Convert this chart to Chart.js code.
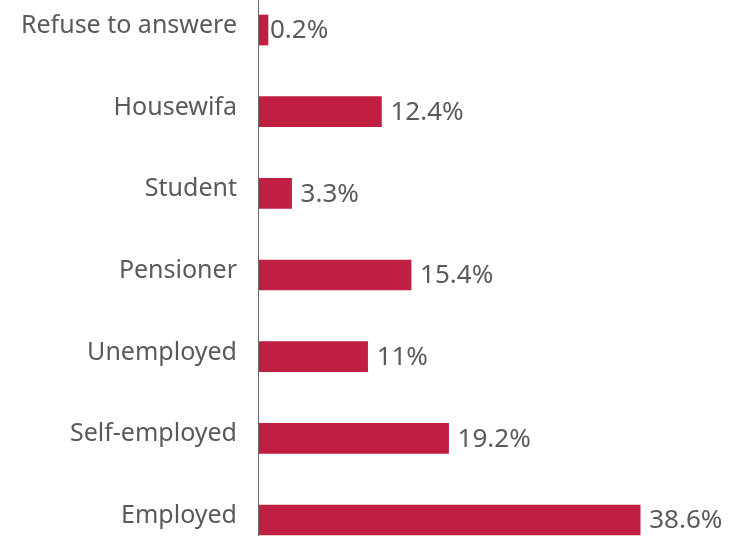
<!DOCTYPE html>
<html>
<head>
<meta charset="utf-8">
<script src="https://cdn.jsdelivr.net/npm/chart.js@4"></script>
<style>
  html, body { margin: 0; padding: 0; background: #fff; }
  #wrap { width: 740px; height: 536px; position: relative; }
</style>
</head>
<body>
<div id="wrap"><canvas id="occupationChart"></canvas></div>
<script>
// Occupation breakdown (%)
const categories = ['Refuse to answere', 'Housewifa', 'Student', 'Pensioner', 'Unemployed', 'Self-employed', 'Employed'];
const shares = [0.2, 12.4, 3.3, 15.4, 11, 19.2, 38.6];

const barColor = '#c01f41';
const textColor = '#5a5a5a';
const fontFamily = '"Noto Sans", sans-serif';

// value labels to the right of each bar, plus the full-height axis line
const barLabels = {
  id: 'barLabels',
  afterDatasetsDraw(chart) {
    const ctx = chart.ctx;
    const area = chart.chartArea;
    ctx.save();
    ctx.strokeStyle = '#6b6b6b';
    ctx.lineWidth = 1;
    ctx.beginPath();
    ctx.moveTo(area.left - 0.5, 0);
    ctx.lineTo(area.left - 0.5, chart.height);
    ctx.stroke();

    ctx.fillStyle = textColor;
    ctx.font = '26px ' + fontFamily;
    ctx.textAlign = 'left';
    ctx.textBaseline = 'middle';
    chart.getDatasetMeta(0).data.forEach((bar, i) => {
      const gap = shares[i] < 1 ? 2 : 9;
      ctx.fillText(shares[i] + '%', bar.x + gap, bar.y + 1);
    });
    ctx.restore();
  }
};

new Chart(document.getElementById('occupationChart'), {
  type: 'bar',
  data: {
    labels: categories,
    datasets: [{
      data: shares,
      backgroundColor: barColor,
      barThickness: 30,
      minBarLength: 9,
      clip: false
    }]
  },
  options: {
    indexAxis: 'y',
    responsive: true,
    maintainAspectRatio: false,
    animation: false,
    layout: { padding: { top: 30, bottom: 16, right: 86, left: 0 } },
    plugins: {
      legend: { display: false },
      tooltip: { enabled: false }
    },
    scales: {
      x: {
        display: false,
        min: 0,
        max: 40
      },
      y: {
        offset: false,
        grid: { display: false },
        border: { display: false },
        afterFit: (scale) => {
          scale.width = 259;
          scale.paddingTop = 0;
          scale.paddingBottom = 0;
        },
        ticks: {
          padding: 14,
          labelOffset: -4,
          color: textColor,
          font: { family: fontFamily, size: 25 }
        }
      }
    }
  },
  plugins: [barLabels]
});
</script>
</body>
</html>
